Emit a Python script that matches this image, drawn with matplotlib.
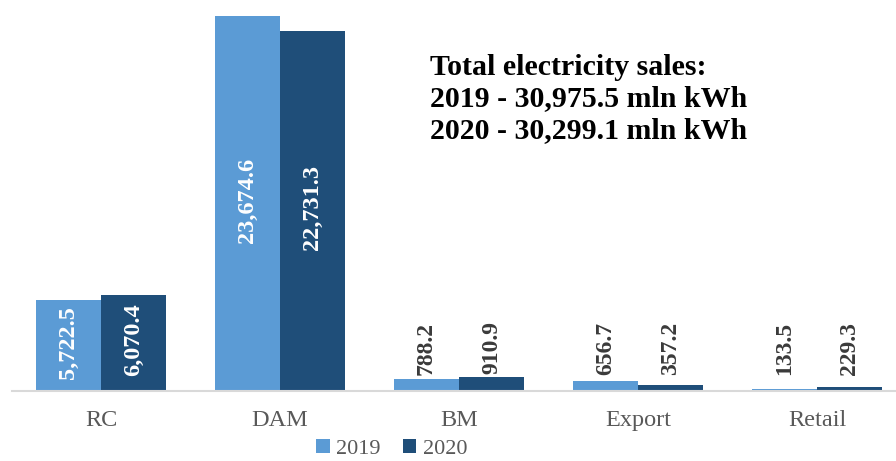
import numpy as np
import matplotlib.pyplot as plt

plt.rcParams['font.family'] = ['Liberation Serif', 'DejaVu Serif']

categories = ['RC', 'DAM', 'BM', 'Export', 'Retail']
sales_2019 = [5722.5, 23674.6, 788.2, 656.7, 133.5]
sales_2020 = [6070.4, 22731.3, 910.9, 357.2, 229.3]
labels_2019 = ['5,722.5', '23,674.6', '788.2', '656.7', '133.5']
labels_2020 = ['6,070.4', '22,731.3', '910.9', '357.2', '229.3']

c2019 = '#5B9BD5'
c2020 = '#1F4E79'

fig = plt.figure(figsize=(8.96, 4.61), dpi=100)
ax = fig.add_axes([12 / 896, 1 - 391 / 461, 884 / 896, 391 / 461])

x = np.arange(len(categories))
w = 0.363
b1 = ax.bar(x - w / 2, sales_2019, w, color=c2019, label='2019')
b2 = ax.bar(x + w / 2, sales_2020, w, color=c2020, label='2020')

ax.set_xlim(-0.497, 4.441)
ax.set_ylim(0, 23674.6 * 391 / 375)

# values inside the tall bars, above the short ones
for bars, vals, labs in [(b1, sales_2019, labels_2019), (b2, sales_2020, labels_2020)]:
    for bar, v, lab in zip(bars, vals, labs):
        cx = bar.get_x() + bar.get_width() / 2
        if v > 3000:
            ax.text(cx, v / 2 + 200, lab, rotation=90, ha='center', va='center',
                    color='white', fontsize=17.5, fontweight='bold')
        else:
            ax.text(cx, max(v, 800) + 180, lab, rotation=90, ha='center', va='bottom',
                    color='#3A3A3A', fontsize=17, fontweight='bold')

for s in ['left', 'right', 'top']:
    ax.spines[s].set_visible(False)
ax.spines['bottom'].set_color('#D9D9D9')
ax.spines['bottom'].set_linewidth(1.5)
ax.set_yticks([])
ax.set_xticks(x)
ax.set_xticklabels(categories, fontsize=17.5, color='#595959')
ax.tick_params(axis='x', length=0, pad=14)

fig.text(430 / 896, 1 - 99 / 461,
         'Total electricity sales:\n2019 - 30,975.5 mln kWh\n2020 - 30,299.1 mln kWh',
         fontsize=21.5, fontweight='bold', color='black', va='center', ha='left',
         linespacing=1.2)

fig.legend(handles=[b1, b2], loc='center', bbox_to_anchor=(392 / 896, 1 - 449 / 461),
           ncol=2, frameon=False, fontsize=16, handlelength=0.6, handleheight=0.6,
           handletextpad=0.3, columnspacing=1.0, labelcolor='#595959',
           borderpad=0.1)

fig.savefig('out.png', dpi=100)
